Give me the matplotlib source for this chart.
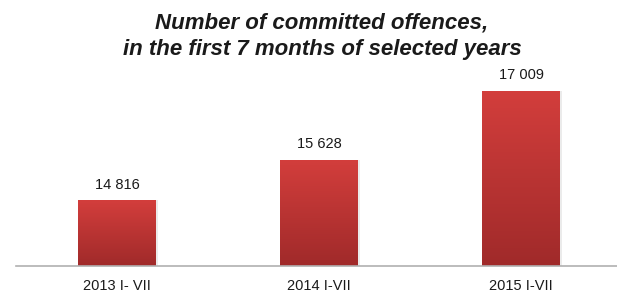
import numpy as np
import matplotlib
matplotlib.use('Agg')
import matplotlib.pyplot as plt
from matplotlib.colors import LinearSegmentedColormap

categories = ['2013 I- VII', '2014 I-VII', '2015 I-VII']
values = [14816, 15628, 17009]
value_labels = ['14 816', '15 628', '17 009']

plt.rcParams['font.family'] = ['Liberation Sans', 'DejaVu Sans']

W, H = 617, 293
fig = plt.figure(figsize=(W / 100, H / 100), dpi=100)
ax = fig.add_axes([16 / W, (H - 266) / H, 1 - 16 / W, 200 / H])

x = np.arange(len(categories))
bars = ax.bar(x, values, width=0.386, color='none', edgecolor='none', zorder=2)
ax.set_xlim(-0.5, 2.475)
ax.set_ylim(13500, 17500)

# vertical red gradient clipped to each bar
grad = LinearSegmentedColormap.from_list('red', ['#a02a2a', '#d33e3c'])
gy = np.linspace(0, 1, 256).reshape(-1, 1)
for b in bars:
    x0, w = b.get_x(), b.get_width()
    top = b.get_height()
    im = ax.imshow(gy, cmap=grad, aspect='auto', origin='lower',
                   extent=(x0, x0 + w, 13500, top), zorder=2)
    im.set_clip_path(b)
    # faint shadow on the right edge
    ax.bar(x0 + w + 0.006, top - 13500, width=0.012, bottom=13500,
           color='#000000', alpha=0.08, zorder=1)

for xi, v, lab in zip(x, values, value_labels):
    ax.annotate(lab, (xi, v), xytext=(0, 6), textcoords='offset points',
                ha='center', va='bottom', fontsize=10.5, color='#1a1a1a')

ax.set_xticks(x)
ax.set_xticklabels(categories, fontsize=10.5, color='#1a1a1a')
ax.tick_params(axis='x', length=0, pad=9)
ax.set_yticks([])
for s in ('top', 'right', 'left'):
    ax.spines[s].set_visible(False)
ax.spines['bottom'].set_color('#b0b0b0')
ax.spines['bottom'].set_linewidth(1.2)

title_kw = dict(ha='center', va='baseline', fontsize=16, fontweight='bold',
                fontstyle='italic', color='#1a1a1a')
fig.text(322 / W, 1 - 28 / H, 'Number of committed offences,', **title_kw)
fig.text(322 / W, 1 - 55 / H, 'in the first 7 months of selected years', **title_kw)

fig.savefig('out.png', dpi=100)
